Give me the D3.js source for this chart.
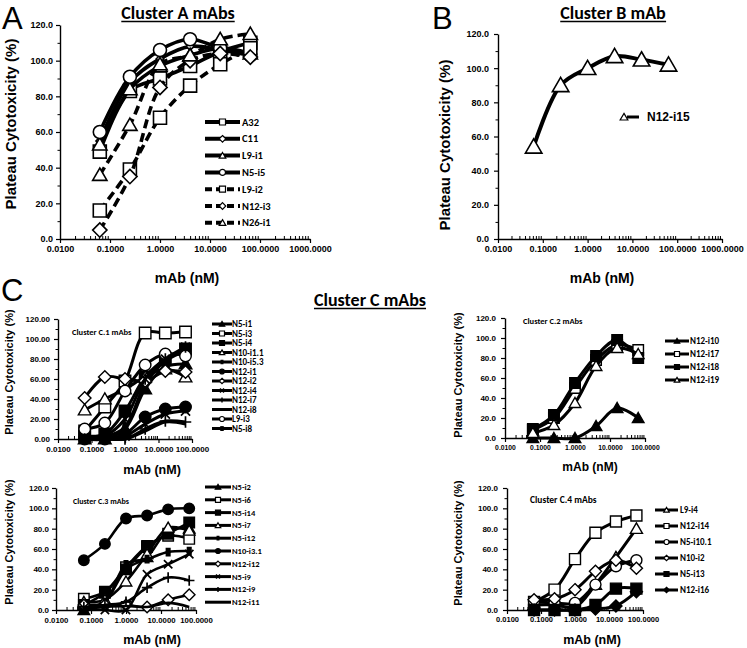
<!DOCTYPE html>
<html><head><meta charset="utf-8">
<script src="https://cdn.jsdelivr.net/npm/d3@7"></script>
<style>
body{margin:0;background:#fff}
svg{display:block;background:#fff}
</style></head><body><svg id="c" width="747" height="648"></svg>
<script>
// ---------- data ----------
const conc = [0.0625, 0.25, 1, 4, 16, 64];
const xTicksAB = [0.01, 0.1, 1, 10, 100, 1000];
const xTicksC = [0.01, 0.1, 1, 10, 100];
const yTicks = [0, 20, 40, 60, 80, 100, 120];

// Panel A
const aNames = ["A32", "C11", "L9-i1", "N5-i5", "L9-i2", "N12-i3", "N26-i1"];
const aA32   = [49, 83, 90, 97, 105, 110];
const aC11   = [55, 88, 101, 108, 106, 103];
const aL9i1  = [53, 84, 97, 103, 107, 104];
const aN5i5  = [60, 91, 106, 112, 107, 103];
const aL9i2  = [16, 39, 68, 86, 98, 107];
const aN12i3 = [5, 35, 85, 100, 104, 102];
const aN26i1 = [36, 64, 98, 103, 112, 115];

// Panel B
const bNames = ["N12-i15"];
const bN12i15 = [54, 90, 100, 107, 105, 102];

// Panel C.1
const c1Names = ["N5-i1", "N5-i3", "N5-i4", "N10-i1.1", "N10-i5.3", "N12-i1", "N12-i2", "N12-i4", "N12-i7", "N12-i8", "L9-i3", "N5-i8"];
const c1N5i1   = [0, 0, 10, 50, 72, 75];
const c1N5i3   = [8, 32, 58, 106, 106, 107];
const c1N5i4   = [3, 5, 28, 62, 80, 90];
const c1N10i11 = [29, 40, 50, 62, 70, 62];
const c1N10i53 = [0, 2, 12, 55, 78, 88];
const c1N12i1  = [0, 0, 5, 22, 30, 32];
const c1N12i2  = [41, 62, 60, 58, 68, 67];
const c1N12i4  = [0, 0, 3, 15, 25, 28];
const c1N12i7  = [0, 0, 0, 10, 18, 17];
const c1N12i8  = [0, 0, 0, 8, 17, 15];
const c1L9i3   = [10, 16, 48, 74, 85, 83];
const c1N5i8   = [0, 3, 20, 60, 80, 92];

// Panel C.2
const c2Names = ["N12-i10", "N12-i17", "N12-i18", "N12-i19"];
const c2N12i10 = [0, 0, 0, 12, 30, 20];
const c2N12i17 = [8, 20, 50, 78, 93, 88];
const c2N12i18 = [9, 23, 55, 82, 98, 80];
const c2N12i19 = [5, 13, 35, 72, 90, 84];

// Panel C.3
const c3Names = ["N5-i2", "N5-i6", "N5-i14", "N5-i7", "N5-i12", "N10-i3.1", "N12-i12", "N5-i9", "N12-i9", "N12-i11"];
const c3N5i2   = [0, 8, 40, 52, 78, 80];
const c3N5i6   = [11, 18, 42, 63, 73, 70];
const c3N5i14  = [5, 17, 40, 62, 75, 86];
const c3N5i7   = [8, 10, 28, 55, 81, 78];
const c3N5i12  = [3, 8, 45, 50, 57, 58];
const c3N10i31 = [49, 65, 90, 93, 99, 100];
const c3N12i12 = [5, 5, 5, 3, 10, 15];
const c3N5i9   = [2, 0, 0, 35, 45, 55];
const c3N12i9  = [3, 5, 8, 22, 32, 29];
const c3N12i11 = [2, 3, 4, 3, 7, 3];

// Panel C.4
const c4Names = ["L9-i4", "N12-i14", "N5-i10.1", "N10-i2", "N5-i13", "N12-i16"];
const c4L9i4   = [5, 5, 3, 25, 52, 80];
const c4N12i14 = [8, 20, 50, 76, 87, 93];
const c4N5i101 = [8, 7, 7, 25, 43, 49];
const c4N10i2  = [10, 11, 20, 38, 49, 41];
const c4N5i13  = [0, 0, 0, 5, 21, 21];
const c4N12i16 = [0, 0, 0, 1, 4, 18];

// ---------- styles (marker, fill, dash) ----------
const O = "open", F = "fill";
const aSeries = [
  [aA32, "sq", O, false], [aC11, "di", O, false, 7], [aL9i1, "tr", O, false], [aN5i5, "ci", O, false],
  [aL9i2, "sq", O, true], [aN12i3, "di", O, true], [aN26i1, "tr", O, true]];
const bSeries = [[bN12i15, "tr", O, false]];
const c1Series = [
  [c1N5i1, "tr", F], [c1N5i3, "sq", O], [c1N5i4, "sq", F], [c1N10i11, "tr", O], [c1N10i53, "bar", F],
  [c1N12i1, "ci", F], [c1N12i2, "di", O], [c1N12i4, "x", F], [c1N12i7, "pl", F], [c1N12i8, "none", F],
  [c1L9i3, "ci", O], [c1N5i8, "st", F]];
const c2Series = [[c2N12i10, "tr", F], [c2N12i17, "sq", O], [c2N12i18, "sq", F], [c2N12i19, "tr", O]];
const c3Series = [
  [c3N5i2, "tr", F], [c3N5i6, "sq", O], [c3N5i14, "sq", F], [c3N5i7, "tr", O], [c3N5i12, "bar", F],
  [c3N10i31, "ci", F], [c3N12i12, "di", O], [c3N5i9, "x", F], [c3N12i9, "pl", F], [c3N12i11, "none", F]];
const c4Series = [[c4L9i4, "tr", O], [c4N12i14, "sq", O], [c4N5i101, "ci", O], [c4N10i2, "di", O], [c4N5i13, "sq", F], [c4N12i16, "di", F]];

const svg = d3.select("#c");
const ARIAL = "Arial, 'Liberation Sans', sans-serif";
const LATO = "Carlito, Lato, 'Open Sans', sans-serif";

function mk(type, w) {
  const h = w / 2;
  switch (type) {
    case "sq": return `M${-h},${-h}H${h}V${h}H${-h}Z`;
    case "ci": return `M${h},0A${h},${h} 0 1,1 ${-h},0A${h},${h} 0 1,1 ${h},0Z`;
    case "tr": return `M0,${-h * 1.05}L${h * 1.1},${h * 0.85}L${-h * 1.1},${h * 0.85}Z`;
    case "di": return `M0,${-h * 1.1}L${h * 1.1},0L0,${h * 1.1}L${-h * 1.1},0Z`;
    case "x": return `M${-h * .8},${-h * .8}L${h * .8},${h * .8}M${h * .8},${-h * .8}L${-h * .8},${h * .8}`;
    case "pl": return `M0,${-h}V${h}M${-h},0H${h}`;
    case "st": return `M${-h * .75},${-h * .75}L${h * .75},${h * .75}M${h * .75},${-h * .75}L${-h * .75},${h * .75}M0,${-h}V${h}`;
    case "bar": return `M${-h * .35},${-h * .7}H${h * .35}V${h * .7}H${-h * .35}Z`;
    default: return "";
  }
}
const strokeOnly = t => t === "x" || t === "pl" || t === "st";

function drawMarker(g, type, fill, w, cx, cy, sw) {
  if (type === "none") return;
  const p = g.append("path").attr("d", mk(type, w)).attr("transform", `translate(${cx},${cy})`);
  if (strokeOnly(type)) p.attr("fill", "none").attr("stroke", "#000").attr("stroke-width", sw * 1.2);
  else p.attr("fill", fill === F ? "#000" : "#fff").attr("stroke", "#000").attr("stroke-width", sw);
}

function drawPanel(p) {
  const g = svg.append("g");
  const x = d3.scaleLog().domain([0.01, p.xmax]).range([p.x0, p.x1]);
  const y = d3.scaleLinear().domain([0, 120]).range([p.yb, p.yt]);
  const minor = [];
  for (let e = -2; e < Math.round(Math.log10(p.xmax)); e++) for (let k = 2; k <= 9; k++) minor.push(k * Math.pow(10, e));
  g.append("g").attr("transform", `translate(0,${p.yb})`)
    .call(d3.axisBottom(x).tickValues(minor).tickFormat("").tickSize(-3).tickSizeOuter(0))
    .call(a => a.select(".domain").remove())
    .selectAll("line").attr("stroke-width", 1);
  const xa = g.append("g").attr("transform", `translate(0,${p.yb})`)
    .call(d3.axisBottom(x).tickValues(p.xticks).tickFormat(d3.format(".4f")).tickSize(4).tickPadding(p.xpad).tickSizeOuter(0));
  xa.attr("font-family", null).attr("font-size", null);
  xa.selectAll("text").attr("font-family", ARIAL).attr("font-weight", "bold").attr("font-size", p.xfs);
  xa.selectAll("line").attr("stroke-width", 1.2);
  xa.select(".domain").attr("stroke-width", 1.4);
  g.append("g").attr("transform", `translate(${p.x0},0)`)
    .call(d3.axisLeft(y).tickValues([10, 30, 50, 70, 90, 110]).tickFormat("").tickSize(2.5).tickSizeOuter(0))
    .call(a => a.select(".domain").remove())
    .selectAll("line").attr("stroke-width", 1);
  const ya = g.append("g").attr("transform", `translate(${p.x0},0)`)
    .call(d3.axisLeft(y).tickValues(yTicks).tickFormat(d3.format(p.yfmt)).tickSize(4).tickPadding(p.ypad).tickSizeOuter(0));
  ya.attr("font-family", null).attr("font-size", null);
  ya.selectAll("text").attr("font-family", ARIAL).attr("font-weight", "bold").attr("font-size", p.yfs);
  ya.selectAll("line").attr("stroke-width", 1.2);
  ya.select(".domain").attr("stroke-width", 1.4);

  g.append("text").attr("transform", `translate(${p.ylab[0]},${p.ylab[1]}) rotate(-90)`)
    .attr("text-anchor", "middle").attr("dy", "0.35em")
    .attr("font-family", ARIAL).attr("font-weight", "bold").attr("font-size", p.ylab[2])
    .text("Plateau Cytotoxicity (%)");
  g.append("text").attr("x", p.xlab[0]).attr("y", p.xlab[1]).attr("dy", "0.35em")
    .attr("text-anchor", "middle").attr("font-family", ARIAL).attr("font-weight", "bold").attr("font-size", p.xlab[2])
    .text("mAb (nM)");

  if (p.note) {
    g.append("text").attr("x", p.note[0]).attr("y", p.note[1]).attr("dy", "0.35em")
      .attr("font-family", LATO).attr("font-weight", "bold").attr("font-size", p.note[2]).text(p.note[3]);
  }

  const line = d3.line().x(d => x(d[0])).y(d => y(d[1])).curve(d3.curveCatmullRom.alpha(0.5));
  p.series.forEach(s => {
    const data = conc.map((c, i) => [c, s[0][i]]);
    const sg = g.append("g");
    const path = sg.append("path").attr("d", line(data)).attr("fill", "none")
      .attr("stroke", "#000").attr("stroke-width", p.lw).attr("stroke-linejoin", "round");
    if (s[3]) path.attr("stroke-dasharray", "9,5");
    const w = s[4] || p.mw;
    data.forEach(d => drawMarker(sg, s[1], s[2], w, x(d[0]), y(d[1]), p.msw));
  });

  const L = p.legend;
  p.names.forEach((n, i) => {
    const s = p.series[i];
    const cy = L.y + i * L.dy;
    const lg = g.append("g");
    const la = lg.append("line").attr("x1", L.lx0).attr("x2", L.lx1).attr("y1", cy).attr("y2", cy)
      .attr("stroke", "#000").attr("stroke-width", L.lw);
    if (s[3]) la.attr("stroke-dasharray", "7,4");
    drawMarker(lg, s[1], s[2], L.mw, L.mx !== undefined ? L.mx : (L.lx0 + L.lx1) / 2, cy, 1.2);
    lg.append("text").attr("x", L.tx).attr("y", cy).attr("dy", "0.35em")
      .attr("font-family", L.font || LATO).attr("font-weight", "bold").attr("font-size", L.fs).text(n);
  });
}

function title(txt, cx, by, fs) {
  const t = svg.append("text").attr("x", cx).attr("y", by).attr("text-anchor", "middle")
    .attr("font-family", LATO).attr("font-weight", "bold").attr("font-size", fs).text(txt);
  const bb = t.node().getBBox();
  svg.append("line").attr("x1", bb.x).attr("x2", bb.x + bb.width).attr("y1", by + 2.5).attr("y2", by + 2.5)
    .attr("stroke", "#000").attr("stroke-width", 1.5);
}
function letter(txt, x, by) {
  svg.append("text").attr("x", x).attr("y", by).attr("font-family", ARIAL).attr("font-size", 31).text(txt);
}

// ---------- panels ----------
drawPanel({x0: 60, x1: 310, yb: 239, yt: 25, xmax: 1000, xticks: xTicksAB, yfmt: ".1f", xfs: 9, yfs: 9, xpad: 3, ypad: 3,
  ylab: [11, 124, 15], xlab: [187, 278, 14], lw: 3.6, mw: 13, msw: 1.6,
  names: aNames, series: aSeries,
  legend: {lx0: 205, lx1: 240, tx: 242, y: 122, dy: 16.8, lw: 4, mw: 6, fs: 10.5}});
drawPanel({x0: 498, x1: 722, yb: 239, yt: 34, xmax: 1000, xticks: xTicksAB, yfmt: ".1f", xfs: 9, yfs: 9, xpad: 3, ypad: 5,
  ylab: [445, 145, 15], xlab: [602, 278, 14], lw: 4, mw: 15, msw: 1.6,
  names: bNames, series: bSeries,
  legend: {lx0: 627, lx1: 639, mx: 624, tx: 647, y: 117, dy: 0, lw: 3, mw: 7, fs: 12, font: ARIAL}});
drawPanel({x0: 58, x1: 192, yb: 439, yt: 319, xmax: 100, xticks: xTicksC, yfmt: ".2f", xfs: 8, yfs: 8, xpad: 3, ypad: 4,
  ylab: [9, 372, 11], xlab: [152, 470, 12.5], lw: 3, mw: 11.5, msw: 1.4,
  note: [72, 332, 8.5, "Cluster C.1 mAbs"],
  names: c1Names, series: c1Series,
  legend: {lx0: 212, lx1: 232, tx: 232, y: 324, dy: 9.5, lw: 3, mw: 5, fs: 9}});
drawPanel({x0: 505, x1: 645, yb: 438, yt: 318, xmax: 100, xticks: xTicksC, yfmt: ".1f", xfs: 6.8, yfs: 8, xpad: 3, ypad: 5,
  ylab: [458, 375, 11], xlab: [590, 467, 12], lw: 3, mw: 10.5, msw: 1.4,
  note: [523, 321, 8.5, "Cluster C.2 mAbs"],
  names: c2Names, series: c2Series,
  legend: {lx0: 665, lx1: 689, tx: 690, y: 341, dy: 13, lw: 3, mw: 5, fs: 9}});
drawPanel({x0: 56, x1: 196, yb: 610, yt: 488, xmax: 100, xticks: xTicksC, yfmt: ".1f", xfs: 7.8, yfs: 8, xpad: 3, ypad: 3,
  ylab: [9, 542, 11], xlab: [152, 640, 12.5], lw: 2.6, mw: 10.5, msw: 1.4,
  note: [73, 501, 8, "Cluster C.3 mAbs"],
  names: c3Names, series: c3Series,
  legend: {lx0: 205, lx1: 231, tx: 232, y: 487, dy: 12.8, lw: 3, mw: 5, fs: 8.5}});
drawPanel({x0: 507, x1: 643, yb: 610, yt: 488, xmax: 100, xticks: xTicksC, yfmt: ".1f", xfs: 7.5, yfs: 8, xpad: 3, ypad: 5,
  ylab: [458, 543, 11], xlab: [592, 640, 12.5], lw: 3, mw: 11, msw: 1.4,
  note: [530, 500, 9.5, "Cluster C.4 mAbs"],
  names: c4Names, series: c4Series,
  legend: {lx0: 655, lx1: 678, tx: 680, y: 510, dy: 16, lw: 3, mw: 5, fs: 9}});

title("Cluster A mAbs", 178, 19, 18);
title("Cluster B mAb", 613, 19, 18);
title("Cluster C mAbs", 370, 306, 18);
letter("A", 2, 29);
letter("B", 432, 29);
letter("C", 1, 301);
</script></body></html>
